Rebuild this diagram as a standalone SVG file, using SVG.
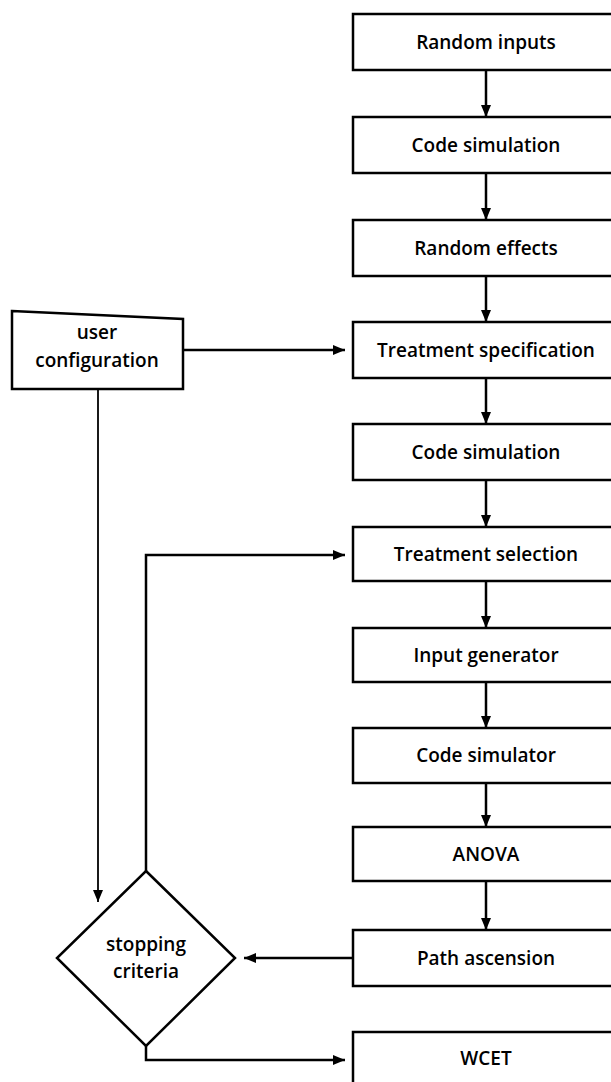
<svg xmlns="http://www.w3.org/2000/svg" width="611" height="1082" viewBox="0 0 611 1082">
<style>
.box{fill:#fff;stroke:#000;stroke-width:2.5}
.t{font-family:"Open Sans","Noto Sans",sans-serif;font-size:19px;font-weight:600;text-anchor:middle;fill:#000}
.c{fill:none;stroke:#000;stroke-width:2.5}
.thin{fill:none;stroke:#000;stroke-width:1.8}
</style>
<defs>
<marker id="ah" viewBox="0 0 12 10" refX="12" refY="5" markerWidth="12" markerHeight="10" markerUnits="userSpaceOnUse" orient="auto">
<path d="M0,0 L12,5 L0,10 Z" fill="#000"/>
</marker>
</defs>
<g id="connectors">
<path class="c" d="M486,70 V117" marker-end="url(#ah)"/>
<path class="c" d="M486,173 V220" marker-end="url(#ah)"/>
<path class="c" d="M486,276 V322" marker-end="url(#ah)"/>
<path class="c" d="M486,378 V424" marker-end="url(#ah)"/>
<path class="c" d="M486,480 V527" marker-end="url(#ah)"/>
<path class="c" d="M486,581 V628" marker-end="url(#ah)"/>
<path class="c" d="M486,682 V728" marker-end="url(#ah)"/>
<path class="c" d="M486,783 V827" marker-end="url(#ah)"/>
<path class="c" d="M486,881 V930" marker-end="url(#ah)"/>
<path class="c" d="M183,350 H345" marker-end="url(#ah)"/>
<path class="thin" d="M98,389 V902" marker-end="url(#ah)"/>
<path class="c" d="M146,871 V555 H345" marker-end="url(#ah)"/>
<path class="c" d="M353,958 H244" marker-end="url(#ah)"/>
<path class="c" d="M146,1046 V1060 H345" marker-end="url(#ah)"/>
</g>
<g id="n1"><rect class="box" x="353" y="14" width="270" height="56"/><text class="t" x="486" y="49">Random inputs</text></g>
<g id="n2"><rect class="box" x="353" y="117" width="270" height="56"/><text class="t" x="486" y="152">Code simulation</text></g>
<g id="n3"><rect class="box" x="353" y="220" width="270" height="56"/><text class="t" x="486" y="255">Random effects</text></g>
<g id="n4"><rect class="box" x="353" y="322" width="270" height="56"/><text class="t" x="486" y="357">Treatment specification</text></g>
<g id="n5"><rect class="box" x="353" y="424" width="270" height="56"/><text class="t" x="486" y="459">Code simulation</text></g>
<g id="n6"><rect class="box" x="353" y="527" width="270" height="54"/><text class="t" x="486" y="561">Treatment selection</text></g>
<g id="n7"><rect class="box" x="353" y="628" width="270" height="54"/><text class="t" x="486" y="662">Input generator</text></g>
<g id="n8"><rect class="box" x="353" y="728" width="270" height="55"/><text class="t" x="486" y="762">Code simulator</text></g>
<g id="n9"><rect class="box" x="353" y="827" width="270" height="54"/><text class="t" x="486" y="861">ANOVA</text></g>
<g id="n10"><rect class="box" x="353" y="930" width="270" height="56"/><text class="t" x="486" y="965">Path ascension</text></g>
<g id="n11"><rect class="box" x="353" y="1032" width="270" height="60"/><text class="t" x="486" y="1065">WCET</text></g>
<g id="user"><path class="box" d="M12,311 L183,319 L183,389 L12,389 Z"/><text class="t" x="97" y="339">user</text><text class="t" x="97" y="367">configuration</text></g>
<g id="stop"><path class="box" d="M146,871 L235,958 L146,1046 L57,958 Z"/><text class="t" x="146" y="951">stopping</text><text class="t" x="146" y="978">criteria</text></g>
</svg>
